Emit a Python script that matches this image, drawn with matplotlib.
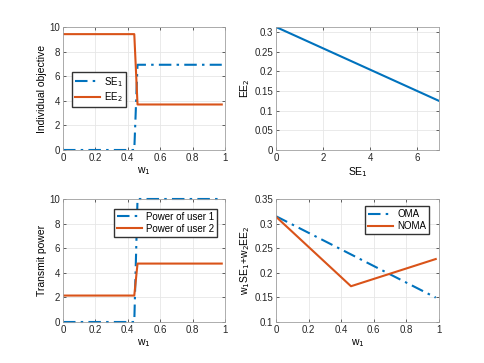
import numpy as np
import matplotlib.pyplot as plt

# weight samples at the switching point
w1 = [0, 0.44, 0.46, 0.98]
se1 = [0, 0, 6.93, 6.93]
ee2 = [9.42, 9.42, 3.7, 3.7]

# pareto front
front_se1 = [0, 6.93]
front_ee2 = [0.313, 0.125]

# powers
p_user1 = [0, 0, 10, 10]
p_user2 = [2.15, 2.15, 4.75, 4.75]

# weighted sum
ws_w1 = [0, 0.98]
oma = [0.315, 0.1496]
noma_w1 = [0, 0.46, 0.98]
noma = [0.314, 0.1727, 0.228]

blue = '#0072BD'
orange = '#D95319'
plt.rcParams['font.family'] = ['Liberation Sans', 'DejaVu Sans']
plt.rcParams['font.size'] = 7
plt.rcParams['axes.linewidth'] = 0.6

dashdot = (0, (6, 2.5, 1.2, 2.5))
leg_kw = dict(fontsize=7, fancybox=False, edgecolor='#333333', framealpha=1,
              handlelength=2.6, borderpad=0.3, labelspacing=0.2, handletextpad=0.4,
              borderaxespad=0)


def style(ax):
    ax.grid(True, color='#e6e6e6', linewidth=0.6)
    ax.set_axisbelow(True)
    ax.tick_params(direction='in', top=True, right=True, length=2.5, width=0.5,
                   labelsize=7, colors='#262626', pad=2)
    for s in ax.spines.values():
        s.set_color('#a0a0a0')


fig = plt.figure(figsize=(4.85, 3.63), dpi=100)
W, H = 485, 363
def box(l, t, r, b):
    return [l / W, 1 - b / H, (r - l) / W, (b - t) / H]

ax1 = fig.add_axes(box(63, 27, 225, 150))
ax2 = fig.add_axes(box(276, 27, 439, 150))
ax3 = fig.add_axes(box(63, 199, 225, 322))
ax4 = fig.add_axes(box(276, 199, 439, 322))

ax1.plot(w1, se1, linestyle=dashdot, color=blue, lw=1.5, label='SE$_1$')
ax1.plot(w1, ee2, '-', color=orange, lw=1.5, label='EE$_2$')
ax1.set_xlim(0, 1)
ax1.set_ylim(0, 10)
ax1.set_xlabel('w$_1$', fontsize=7.5, labelpad=2)
ax1.set_ylabel('Individual objective', fontsize=7.5, labelpad=2)
ax1.legend(loc='upper left', bbox_to_anchor=(0.055, 0.635), **leg_kw)

ax2.plot(front_se1, front_ee2, '-', color=blue, lw=1.5)
ax2.set_xlim(0, 6.93)
ax2.set_ylim(0, 0.313)
ax2.set_xticks([0, 2, 4, 6])
ax2.set_yticks([0, 0.05, 0.1, 0.15, 0.2, 0.25, 0.3])
ax2.set_yticklabels(['0', '0.05', '0.1', '0.15', '0.2', '0.25', '0.3'])
ax2.set_xlabel('SE$_1$', fontsize=7.5, labelpad=2)
ax2.set_ylabel('EE$_2$', fontsize=7.5, labelpad=2)

ax3.plot(w1, p_user1, linestyle=dashdot, color=blue, lw=1.5, label='Power of user 1',
         clip_on=False)
ax3.plot(w1, p_user2, '-', color=orange, lw=1.5, label='Power of user 2')
ax3.set_xlim(0, 1)
ax3.set_ylim(0, 10)
ax3.set_xlabel('w$_1$', fontsize=7.5, labelpad=2)
ax3.set_ylabel('Transmit power', fontsize=7.5, labelpad=2)
ax3.legend(loc='upper right', bbox_to_anchor=(0.95, 0.92), **leg_kw)

ax4.plot(ws_w1, oma, linestyle=dashdot, color=blue, lw=1.5, label='OMA')
ax4.plot(noma_w1, noma, '-', color=orange, lw=1.5, label='NOMA')
ax4.set_xlim(0, 1)
ax4.set_ylim(0.1, 0.35)
ax4.set_yticks([0.1, 0.15, 0.2, 0.25, 0.3, 0.35])
ax4.set_yticklabels(['0.1', '0.15', '0.2', '0.25', '0.3', '0.35'])
ax4.set_xlabel('w$_1$', fontsize=7.5, labelpad=2)
ax4.set_ylabel('w$_1$SE$_1$+w$_2$EE$_2$', fontsize=7.5, labelpad=2)
ax4.legend(loc='upper right', bbox_to_anchor=(0.94, 0.94), **leg_kw)

for a in (ax1, ax2, ax3, ax4):
    style(a)
for a in (ax1, ax3, ax4):
    a.set_xticks([0, 0.2, 0.4, 0.6, 0.8, 1])
    a.set_xticklabels(['0', '0.2', '0.4', '0.6', '0.8', '1'])

fig.savefig('out.png', dpi=100)
